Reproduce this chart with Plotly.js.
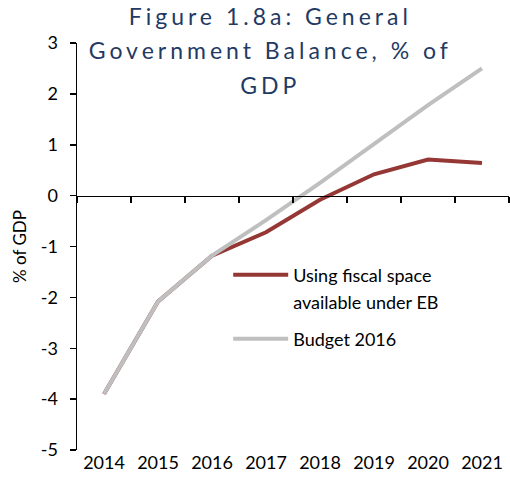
<!DOCTYPE html>
<html><head><meta charset="utf-8">
<script src="https://cdn.plot.ly/plotly-3.0.1.min.js"></script>
<style>body{margin:0;} .gtitle{letter-spacing:4px;}</style>
</head><body><div id="chart" style="width:510px;height:488px;"></div>
<script>
var years = ['2014','2015','2016','2017','2018','2019','2020','2021'];
var fiscalSpace = [-3.9, -2.08, -1.18, -0.72, -0.08, 0.42, 0.71, 0.64];
var budget2016 = [-3.9, -2.08, -1.18, -0.48, 0.25, 1.02, 1.78, 2.5];
var yTicks = [-5, -4, -3, -2, -1, 0, 1, 2, 3];
var yTickText = yTicks.map(function(v){ return String(v); });
var yMin = -5, yMax = 3;
var boundaries = years.map(function(_, i){ return i - 0.5; }).concat([years.length - 0.5]);

var font = 'Lato, "Open Sans", sans-serif';
var traces = [
  {x: years, y: fiscalSpace, type: 'scatter', mode: 'lines', name: 'Using fiscal space<br>available under EB',
   legendgroup: 'a', line: {color: '#953735', width: 4}},
  {x: years, y: budget2016, type: 'scatter', mode: 'lines', name: 'Budget 2016',
   legendgroup: 'b', line: {color: '#BFBFBF', width: 4}},
  {x: [], y: [], xaxis: 'x2', showlegend: false, hoverinfo: 'skip'}
];
var layout = {
  width: 510, height: 488,
  margin: {l: 77, r: 1, t: 43, b: 38},
  paper_bgcolor: '#fff', plot_bgcolor: '#fff',
  font: {family: font, size: 18, color: '#000'},
  title: {text: 'Figure 1.8a: General<br>Government Balance, % of<br>GDP', font: {family: font, size: 23, color: '#1F3A63'},
          x: 0.53, xanchor: 'center', y: 0.949, yanchor: 'top', yref: 'container'},
  xaxis: {type: 'category', range: [-0.5, years.length - 0.5], showline: false, showgrid: false, zeroline: false,
          ticks: '', ticklabelstandoff: 0, tickfont: {size: 18}, fixedrange: true},
  xaxis2: {overlaying: 'x', anchor: 'free', position: (0 - yMin) / (yMax - yMin), range: [-0.5, years.length - 0.5],
           tickmode: 'array', tickvals: boundaries, showticklabels: false, ticks: 'outside', ticklen: 6,
           tickcolor: '#000', tickwidth: 1.5, showline: true, linecolor: '#000', linewidth: 1.5, showgrid: false, zeroline: false},
  yaxis: {range: [yMin, yMax], tickmode: 'array', tickvals: yTicks, ticktext: yTickText, showline: true, linecolor: '#000', linewidth: 1.5,
          ticks: 'outside', ticklen: 6, tickcolor: '#000', tickwidth: 1.5, showgrid: false, zeroline: false,
          ticklabelstandoff: 8, tickfont: {size: 18},
          title: {text: '% of GDP', font: {size: 17}, standoff: 10}},
  legend: {x: 0.35, y: 0.475, xanchor: 'left', yanchor: 'top', bgcolor: 'rgba(0,0,0,0)', font: {size: 18},
           itemwidth: 55, tracegroupgap: 14, valign: 'top'},
  showlegend: true
};
Plotly.newPlot('chart', traces, layout, {displayModeBar: false, staticPlot: true}).then(function(gd){
  var t = gd.querySelector('.gtitle');
  if (t) {
    t.querySelectorAll('tspan.line').forEach(function(ts, i){ ts.setAttribute('dy', (i * 1.5) + 'em'); });
  }
  gd.querySelectorAll('.legendtext').forEach(function(lt){
    lt.querySelectorAll('tspan.line').forEach(function(ts, i){ ts.setAttribute('dy', (i * 1.5) + 'em'); });
  });
});
</script></body></html>
